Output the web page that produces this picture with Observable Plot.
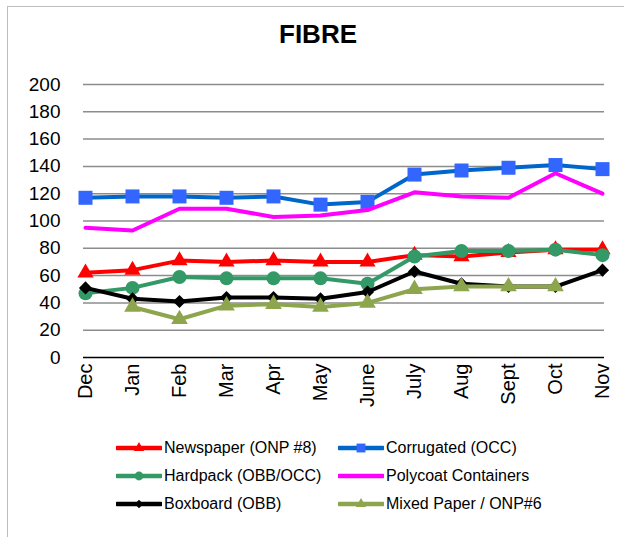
<!DOCTYPE html>
<html><head><meta charset="utf-8">
<script src="https://cdn.jsdelivr.net/npm/d3@7"></script>
<script src="https://cdn.jsdelivr.net/npm/@observablehq/plot@0.6"></script>
<style>
body{margin:0;background:#fff;}
#wrap{position:relative;width:624px;height:537px;overflow:hidden;font-family:"Liberation Sans",Arial,sans-serif;background:#fff;}
#frame{position:absolute;left:7px;top:6px;width:800px;height:800px;border-left:1.5px solid #bdbdbd;border-top:1.5px solid #bdbdbd;}
#title{position:absolute;left:6px;width:624px;top:19px;text-align:center;font-weight:bold;font-size:26px;color:#000;}
#chart{position:absolute;left:0;top:0;}
.leg{position:absolute;height:20px;display:flex;align-items:center;font-size:16px;color:#000;white-space:nowrap;}
.leg svg{margin-right:2px;}
</style></head>
<body>
<div id="wrap">
<div id="frame"></div>
<div id="chart"></div>
<div id="title">FIBRE</div>
<div id="legend"></div>
</div>
<script>
const months = ["Dec","Jan","Feb","Mar","Apr","May","June","July","Aug","Sept","Oct","Nov"];
const yTicks = [0,20,40,60,80,100,120,140,160,180,200];
const seriesNames = ["Newspaper (ONP #8)","Corrugated (OCC)","Hardpack (OBB/OCC)","Polycoat Containers","Boxboard (OBB)","Mixed Paper / ONP#6"];
const newspaper  = [62, 64, 71, 70, 71, 70, 70, 75, 74, 77, 79, 79];
const corrugated = [117,118,118,117,118,112,114,134,137,139,141,138];
const hardpack   = [47, 51, 59, 58, 58, 58, 54, 74, 78, 78, 79, 75];
const polycoat   = [95, 93,109,109,103,104,108,121,118,117,135,120];
const boxboard   = [51, 43, 41, 44, 44, 43, 48, 63, 54, 52, 52, 64];
const mixed      = [null,37,28,38,39,37,40, 50, 52, 52, 52, null];

const seriesValues = [newspaper, corrugated, hardpack, polycoat, boxboard, mixed];
const styles = [
  {line:"#FF0000", mark:"#FF0000", symbol:"triangle", r:6, lr:3.8},
  {line:"#0066CC", mark:"#3366FF", symbol:"square", r:7.9, lr:5},
  {line:"#339966", mark:"#339966", symbol:"circle", r:7, lr:4.4},
  {line:"#FF00FF", mark:"#FF00FF", symbol:null, r:0, lr:0},
  {line:"#000000", mark:"#000000", symbol:"diamond2", r:5.9, lr:3.8},
  {line:"#8DA64E", mark:"#8DA64E", symbol:"triangle", r:6.2, lr:3.8}
];

const marks = [
  Plot.ruleY(yTicks.filter(t => t > 0), {stroke:"#8c8c8c", strokeWidth:1.5, strokeOpacity:1}),
  Plot.ruleY([0], {stroke:"#000", strokeWidth:1.5}),
  Plot.axisY({ticks: yTicks, tickSize:0, tickPadding:23, label:null, fontSize:19, tickFormat: d => String(d)}),
  Plot.axisX({tickRotate:-90, tickSize:0, tickPadding:6, label:null, fontSize:20})
];
seriesValues.forEach((vals, i) => {
  const data = months.map((m, j) => ({month:m, value: vals[j]})).filter(d => d.value != null);
  const s = styles[i];
  marks.push(Plot.line(data, {x:"month", y:"value", stroke:s.line, strokeWidth:4, strokeLinejoin:"round", strokeLinecap:"round"}));
  if (s.symbol) marks.push(Plot.dot(data, {x:"month", y:"value", symbol:()=>s.symbol, fill:s.mark, stroke:"none", r:s.r}));
});

const chart = Plot.plot({
  width: 624, height: 537,
  marginLeft: 83, marginRight: 20, marginTop: 84, marginBottom: 180,
  style: {fontFamily: '"Liberation Sans", Arial, sans-serif', color:"#000", background:"transparent", overflow:"visible"},
  x: {type:"point", domain: months, padding: 0, axis: null},
  y: {domain:[0,200], axis: null},
  symbol: {type:"identity"},
  marks
});
document.getElementById("chart").appendChild(chart);

// legend
const legPos = [[116,438],[338,438],[116,466],[338,466],[116,494],[338,494]];
const leg = document.getElementById("legend");
seriesNames.forEach((name, i) => {
  const s = styles[i];
  const div = document.createElement("div");
  div.className = "leg";
  div.style.left = legPos[i][0] + "px";
  div.style.top = legPos[i][1] + "px";
  const svg = d3.create("svg").attr("width", 46).attr("height", 20);
  svg.append("line").attr("x1",1).attr("x2",45).attr("y1",10).attr("y2",10)
     .attr("stroke", s.line).attr("stroke-width",4.5).attr("stroke-linecap","round");
  if (s.symbol) {
    const symMap = {triangle:d3.symbolTriangle, square:d3.symbolSquare, circle:d3.symbolCircle, diamond2:d3.symbolDiamond2};
    svg.append("path").attr("transform","translate(23,10)")
      .attr("d", d3.symbol(symMap[s.symbol], Math.PI*s.lr*s.lr)())
      .attr("fill", s.mark);
  }
  div.appendChild(svg.node());
  const sp = document.createElement("span");
  sp.textContent = name;
  div.appendChild(sp);
  leg.appendChild(div);
});
</script>
</body></html>
